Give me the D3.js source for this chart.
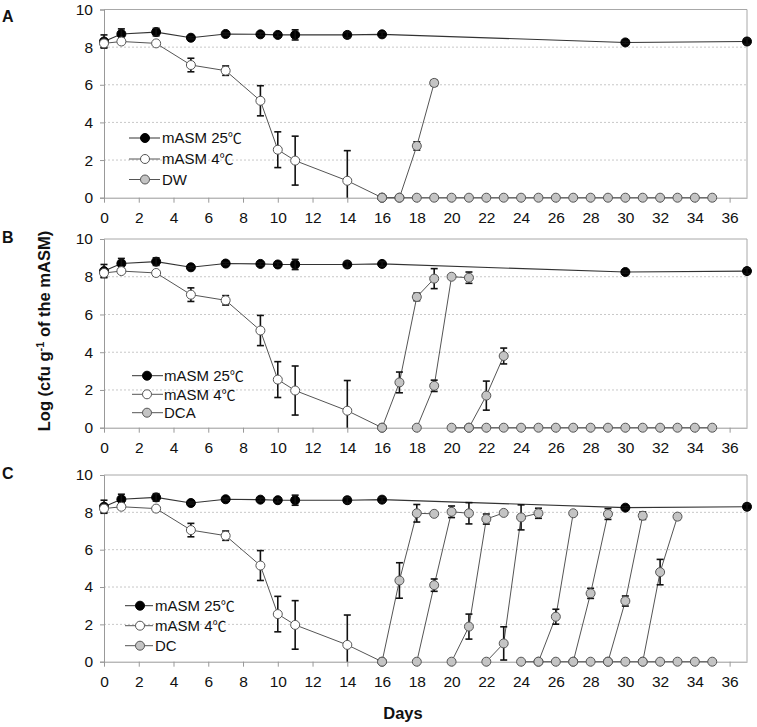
<!DOCTYPE html>
<html><head><meta charset="utf-8">
<script src="https://cdn.jsdelivr.net/npm/d3@7"></script>
<style>
html,body{margin:0;padding:0;background:#fff;}
svg{display:block;font-family:Arial,"Liberation Sans","Noto Sans CJK SC",sans-serif;}
</style></head>
<body><svg id="chart" width="757" height="727"></svg>
<script>
// ---- data ----
const xTicks = [0,2,4,6,8,10,12,14,16,18,20,22,24,26,28,30,32,34,36];
const yTicks = [0,2,4,6,8,10];
const panelLabels = ["A","B","C"];
const seriesNames = ["mASM 25℃","mASM 4℃"];
const treatmentNames = ["DW","DCA","DC"];

const days25 = [0,1,3,5,7,9,10,11,14,16,30,37];
const mean25 = [8.3,8.7,8.8,8.5,8.7,8.68,8.65,8.65,8.65,8.68,8.25,8.3];
const err25  = [0.35,0.27,0.2,0.06,0.06,0.08,0.1,0.27,0.15,0.12,0.06,0.15];

const days4 = [0,1,3,5,7,9,10,11,14,16];
const mean4 = [8.2,8.3,8.2,7.05,6.75,5.15,2.55,1.97,0.9,0];
const err4  = [0.2,0.05,0.05,0.36,0.25,0.8,0.95,1.3,1.6,0];

// treatment runs: [day, mean, err]
const dwRun1 = [[16,0,0],[17,0,0],[18,2.75,0.22],[19,6.1,0.15]];
const dwBase = [[16,0],[17,0],[18,0],[19,0],[20,0],[21,0],[22,0],[23,0],[24,0],[25,0],[26,0],[27,0],[28,0],[29,0],[30,0],[31,0],[32,0],[33,0],[34,0],[35,0]];

const dcaRun1 = [[16,0,0],[17,2.4,0.55],[18,6.93,0.2],[19,7.9,0.53]];
const dcaRun2 = [[18,0,0],[19,2.22,0.3],[20,8.0,0],[21,7.95,0.3]];
const dcaRun3 = [[21,0,0],[22,1.7,0.77],[23,3.8,0.42]];
const dcaBase = [[20,0],[21,0],[22,0],[23,0],[24,0],[25,0],[26,0],[27,0],[28,0],[29,0],[30,0],[31,0],[32,0],[33,0],[34,0],[35,0]];

const dcRun1 = [[16,0,0],[17,4.35,0.95],[18,7.95,0.47],[19,7.92,0]];
const dcRun2 = [[18,0,0],[19,4.1,0.33],[20,8.03,0.31],[21,7.95,0.57]];
const dcRun3 = [[20,0,0],[21,1.88,0.67],[22,7.64,0.27],[23,7.97,0]];
const dcRun4 = [[22,0,0],[23,0.98,0.89],[24,7.73,0.67],[25,7.95,0.27]];
const dcRun5 = [[25,0,0],[26,2.41,0.4],[27,7.95,0]];
const dcRun6 = [[27,0,0],[28,3.66,0.27],[29,7.91,0.29]];
const dcRun7 = [[29,0,0],[30,3.25,0.27],[31,7.82,0.2]];
const dcRun8 = [[31,0,0],[32,4.8,0.68],[33,7.77,0.15]];
const dcBase = [[24,0],[25,0],[26,0],[27,0],[28,0],[29,0],[30,0],[31,0],[32,0],[33,0],[34,0],[35,0]];

const panelRuns = [[dwRun1],[dcaRun1,dcaRun2,dcaRun3],[dcRun1,dcRun2,dcRun3,dcRun4,dcRun5,dcRun6,dcRun7,dcRun8]];
const panelBase = [dwBase,dcaBase,dcBase];

// ---- layout ----
const svg = d3.select("#chart");
const x = d3.scaleLinear().domain([0,37]).range([104,747]);
const panels = [
  {top:9.5, bottom:197.7, leg:{x1:129,x2:160,cx:145,tx:162,ys:[138,159,179.5]}},
  {top:239, bottom:427.7, leg:{x1:132,x2:163,cx:147,tx:164,ys:[375.7,394.3,412.7]}},
  {top:475, bottom:661.7, leg:{x1:125,x2:153,cx:140,tx:155,ys:[605.7,625.7,645.7]}}
];
const R = 4.5;
const lineCol = "#555";
const styles = {
  s25:{fill:"#000",stroke:"#000"},
  s4:{fill:"#fff",stroke:"#555"},
  tr:{fill:"#c4c4c4",stroke:"#555"}
};

panels.forEach((p,i)=>{
  const y = d3.scaleLinear().domain([0,10]).range([p.bottom,p.top]);
  const g = svg.append("g");
  // gridlines
  g.selectAll(".grid").data([2,4,6,8]).join("line")
    .attr("x1",x(0)).attr("x2",x(37)).attr("y1",d=>y(d)).attr("y2",d=>y(d))
    .attr("stroke","#c8c8c8").attr("stroke-width",1).attr("stroke-dasharray","2,2");
  // border top/right
  g.append("line").attr("x1",x(0)).attr("x2",x(37)).attr("y1",y(10)).attr("y2",y(10)).attr("stroke","#a8a8a8");
  g.append("line").attr("x1",x(37)).attr("x2",x(37)).attr("y1",y(10)).attr("y2",y(0)).attr("stroke","#a8a8a8");
  // axes
  const ya = d3.axisLeft(y).tickValues(yTicks).tickSize(4).tickPadding(7).tickFormat(d3.format("d"));
  const yg = g.append("g").attr("transform",`translate(${x(0)},0)`).call(ya);
  yg.select(".domain").attr("stroke","#999");
  yg.selectAll(".tick line").attr("stroke","#999");
  yg.selectAll(".tick text").attr("font-size",15.5).attr("fill","#111").attr("font-family","Arial, 'Liberation Sans', sans-serif");
  const xa = d3.axisBottom(x).tickValues(xTicks).tickSize(5).tickPadding(9).tickSizeOuter(0);
  const xg = g.append("g").attr("transform",`translate(0,${y(0)})`).call(xa);
  xg.select(".domain").attr("stroke","#999");
  xg.selectAll(".tick line").attr("stroke","#999");
  xg.selectAll(".tick text").attr("font-size",15.5).attr("fill","#111").attr("font-family","Arial, 'Liberation Sans', sans-serif");

  // panel letter
  svg.append("text").attr("x",2).attr("y",[22,243,479][i]).text(panelLabels[i])
    .attr("font-size",16).attr("font-weight","bold").attr("fill","#111");

  const line = d3.line().x(d=>x(d[0])).y(d=>y(d[1]));
  const errBars = (sel, pts) => {
    const eb = sel.append("g");
    pts.filter(d=>d[2]>0.04).forEach(d=>{
      const lo = Math.max(0,d[1]-d[2]), hi = Math.min(10,d[1]+d[2]);
      const cx = x(d[0]);
      eb.append("line").attr("x1",cx).attr("x2",cx).attr("y1",y(lo)).attr("y2",y(hi)).attr("stroke","#111").attr("stroke-width",1.6);
      if (d[1]-d[2] >= 0) eb.append("line").attr("x1",cx-3.5).attr("x2",cx+3.5).attr("y1",y(lo)).attr("y2",y(lo)).attr("stroke","#111").attr("stroke-width",1.6);
      eb.append("line").attr("x1",cx-3.5).attr("x2",cx+3.5).attr("y1",y(hi)).attr("y2",y(hi)).attr("stroke","#111").attr("stroke-width",1.6);
    });
  };
  const dots = (sel, pts, st) => {
    sel.append("g").selectAll("circle").data(pts).join("circle")
      .attr("cx",d=>x(d[0])).attr("cy",d=>y(d[1])).attr("r",R)
      .attr("fill",st.fill).attr("stroke",st.stroke).attr("stroke-width",1);
  };

  // mASM 25
  const p25 = days25.map((d,k)=>[d,mean25[k],err25[k]]);
  g.append("path").datum(p25).attr("d",line).attr("fill","none").attr("stroke","#333").attr("stroke-width",1.1);
  dots(g,p25,styles.s25);
  errBars(g,p25);
  // mASM 4
  const p4 = days4.map((d,k)=>[d,mean4[k],err4[k]]);
  g.append("path").datum(p4).attr("d",line).attr("fill","none").attr("stroke",lineCol).attr("stroke-width",1);
  errBars(g,p4);
  dots(g,p4,styles.s4);
  // treatment
  const base = panelBase[i];
  g.append("path").datum(base).attr("d",line).attr("fill","none").attr("stroke",lineCol).attr("stroke-width",1);
  panelRuns[i].forEach(run=>{
    g.append("path").datum(run).attr("d",line).attr("fill","none").attr("stroke",lineCol).attr("stroke-width",1);
  });
  dots(g,base,styles.tr);
  panelRuns[i].forEach(run=>{
    errBars(g,run);
    dots(g,run,styles.tr);
  });

  // legend
  const L = p.leg;
  const names = [seriesNames[0],seriesNames[1],treatmentNames[i]];
  const sts = [styles.s25,styles.s4,styles.tr];
  names.forEach((n,k)=>{
    const ly = L.ys[k];
    g.append("line").attr("x1",L.x1).attr("x2",L.x2).attr("y1",ly).attr("y2",ly).attr("stroke",k===0?"#333":lineCol);
    g.append("circle").attr("cx",L.cx).attr("cy",ly).attr("r",R).attr("fill",sts[k].fill).attr("stroke",sts[k].stroke);
    const t = g.append("text").attr("x",L.tx).attr("y",ly+5.3).attr("font-size",15).attr("fill","#111");
    const parts = n.split("℃");
    t.append("tspan").text(parts[0]);
    if (parts.length > 1) t.append("tspan").attr("font-family","'Noto Sans CJK SC', sans-serif").attr("font-size",14).text("℃");
  });
});

// axis titles
const yt = svg.append("text").attr("transform","translate(50,331) rotate(-90)")
  .attr("text-anchor","middle").attr("font-size",16.5).attr("font-weight","bold").attr("fill","#111");
yt.append("tspan").text("Log (cfu g");
yt.append("tspan").attr("font-size",11).attr("dy",-6).text("-1");
yt.append("tspan").attr("dy",6).text(" of the mASM)");
svg.append("text").attr("x",403).attr("y",719).attr("text-anchor","middle")
  .attr("font-size",16.5).attr("font-weight","bold").attr("fill","#111").text("Days");
</script>
</body></html>
